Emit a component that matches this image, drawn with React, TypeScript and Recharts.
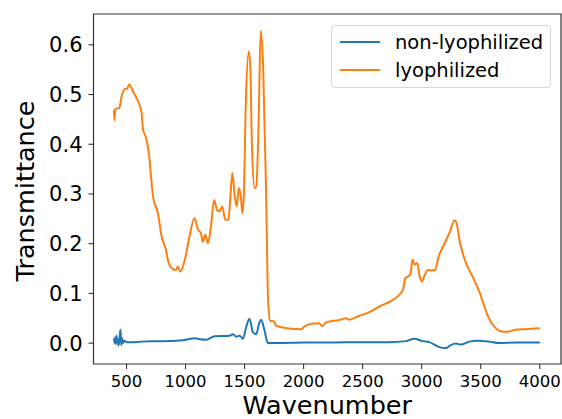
import React from 'react';
import { LineChart, Line, XAxis, YAxis, ReferenceArea, Legend } from 'recharts';

const orangeWn = [393, 397, 405, 412, 437, 458, 486, 505, 522, 540, 556, 598, 627, 640, 663, 691, 705, 725, 766, 797, 833, 857, 881, 918, 933, 957, 994, 1033, 1075, 1106, 1130, 1145, 1166, 1190, 1215, 1242, 1266, 1287, 1311, 1336, 1363, 1378, 1396, 1417, 1433, 1451, 1469, 1481, 1493, 1511, 1535, 1548, 1563, 1585, 1599, 1620, 1636, 1657, 1683, 1699, 1717, 1750, 1766, 1856, 1977, 2008, 2068, 2129, 2159, 2190, 2311, 2356, 2386, 2462, 2553, 2644, 2735, 2795, 2841, 2862, 2886, 2907, 2922, 2940, 2962, 2983, 3001, 3022, 3052, 3083, 3113, 3143, 3189, 3234, 3280, 3295, 3325, 3371, 3431, 3492, 3552, 3613, 3690, 3734, 3794, 3885, 4000];
const orangeT = [0.469, 0.448, 0.470, 0.472, 0.472, 0.496, 0.511, 0.512, 0.520, 0.514, 0.506, 0.486, 0.463, 0.429, 0.415, 0.378, 0.342, 0.294, 0.261, 0.2145, 0.188, 0.161, 0.151, 0.147, 0.154, 0.144, 0.168, 0.2145, 0.251, 0.228, 0.221, 0.204, 0.218, 0.201, 0.235, 0.288, 0.268, 0.265, 0.275, 0.248, 0.248, 0.288, 0.342, 0.295, 0.275, 0.312, 0.292, 0.261, 0.295, 0.489, 0.587, 0.556, 0.389, 0.312, 0.315, 0.456, 0.629, 0.556, 0.288, 0.087, 0.045, 0.0436, 0.035, 0.030, 0.028, 0.0335, 0.039, 0.040, 0.034, 0.0416, 0.047, 0.050, 0.047, 0.054, 0.062, 0.074, 0.084, 0.094, 0.107, 0.131, 0.134, 0.141, 0.168, 0.158, 0.161, 0.134, 0.124, 0.134, 0.147, 0.146, 0.147, 0.174, 0.198, 0.221, 0.247, 0.241, 0.201, 0.164, 0.134, 0.101, 0.060, 0.0335, 0.023, 0.023, 0.027, 0.028, 0.030];

const blueWn = [393, 400, 405, 410, 415, 420, 425, 432, 440, 449, 455, 462, 470, 480, 500, 560, 697, 800, 978, 1077, 1120, 1176, 1246, 1373, 1401, 1429, 1458, 1486, 1514, 1542, 1570, 1599, 1621, 1641, 1669, 1697, 1800, 2000, 2200, 2500, 2726, 2867, 2937, 3008, 3065, 3149, 3205, 3247, 3290, 3332, 3402, 3473, 3572, 3656, 3800, 4000];
const blueT = [0.010, 0.000, 0.012, -0.002, 0.015, 0.003, 0.008, -0.005, 0.010, 0.027, -0.004, 0.010, 0.000, 0.005, 0.002, 0.002, 0.004, 0.004, 0.006, 0.010, 0.008, 0.007, 0.014, 0.015, 0.018, 0.013, 0.015, 0.009, 0.033, 0.049, 0.022, 0.018, 0.038, 0.047, 0.025, 0.000, 0.000, 0.001, 0.001, 0.002, 0.002, 0.004, 0.009, 0.004, 0.002, -0.008, -0.010, -0.004, -0.001, -0.003, 0.003, 0.005, 0.003, 0.000, 0.001, 0.001];

const xTicks = [500, 1000, 1500, 2000, 2500, 3000, 3500, 4000];
const yTicks = [0, 0.1, 0.2, 0.3, 0.4, 0.5, 0.6];
const seriesNames = ['non-lyophilized', 'lyophilized'];
const seriesColors = ['#1f77b4', '#ff7f0e'];

const blueData = blueWn.map((w, i) => ({ wn: w, t: blueT[i] }));
const orangeData = orangeWn.map((w, i) => ({ wn: w, t: orangeT[i] }));

const FONT = 'DejaVu Sans';

const YLabel = (props: any) => {
  const vb = props.viewBox || {};
  const cx = vb.x + 25;
  const cy = vb.y + vb.height / 2 + 2;
  return (
    <text x={cx} y={cy} transform={`rotate(-90 ${cx} ${cy})`} textAnchor="middle" dominantBaseline="central" fontSize={25.5} fill="#000" fontFamily={FONT}>
      Transmittance
    </text>
  );
};

const LegendBox = () => (
  <div style={{ boxSizing: 'border-box', width: 220, height: 63, border: '1px solid #d6d6d6', borderRadius: 4, background: 'rgba(255,255,255,0.8)', fontFamily: FONT, fontSize: 19.5, paddingTop: 2 }}>
    {seriesNames.map((n, i) => (
      <div key={n} style={{ display: 'flex', alignItems: 'center', height: 28, whiteSpace: 'nowrap' }}>
        <svg width={48} height={10} style={{ marginLeft: 7, marginRight: 8 }}>
          <line x1={1} y1={5} x2={41} y2={5} stroke={seriesColors[i]} strokeWidth={2} />
        </svg>
        <span style={{ color: '#000' }}>{n}</span>
      </div>
    ))}
  </div>
);

export default function App() {
  return (
    <div style={{ position: 'fixed', left: 0, top: 0, width: 562, height: 419, background: '#fff', fontFamily: FONT }}>
      <LineChart width={562} height={419} margin={{ top: 14, right: 1, left: 0, bottom: 0 }} style={{ fontFamily: FONT }}>
        <XAxis
          dataKey="wn"
          type="number"
          domain={[220, 4180]}
          ticks={xTicks}
          allowDataOverflow
          height={55}
          tickSize={5}
          tickMargin={6}
          axisLine={false}
          tickLine={{ stroke: '#222' }}
          tick={{ fontSize: 16.5, fill: '#000', fontFamily: FONT }}
          label={{ value: 'Wavenumber', position: 'insideBottom', offset: 5, fontSize: 25.5, fill: '#000', fontFamily: FONT }}
        />
        <YAxis
          type="number"
          domain={[-0.042, 0.662]}
          ticks={yTicks}
          allowDataOverflow
          width={93.5}
          tickSize={5}
          tickMargin={6}
          axisLine={false}
          tickLine={{ stroke: '#222' }}
          tickFormatter={(v: number) => v.toFixed(1)}
          tick={{ fontSize: 21, fill: '#000', fontFamily: FONT }}
          label={<YLabel />}
        />
        <ReferenceArea x1={220} x2={4180} y1={-0.042} y2={0.662} fill="none" fillOpacity={0} stroke="#333" strokeWidth={1.2} ifOverflow="visible" />
        <Line data={blueData} dataKey="t" name={seriesNames[0]} type="monotone" stroke={seriesColors[0]} strokeWidth={2} dot={false} isAnimationActive={false} />
        <Line data={orangeData} dataKey="t" name={seriesNames[1]} type="monotone" stroke={seriesColors[1]} strokeWidth={2} dot={false} isAnimationActive={false} />
        <Legend layout="horizontal" verticalAlign="middle" align="center" wrapperStyle={{ left: 331, top: 25, width: 220, height: 63 }} content={() => <LegendBox />} />
      </LineChart>
    </div>
  );
}
